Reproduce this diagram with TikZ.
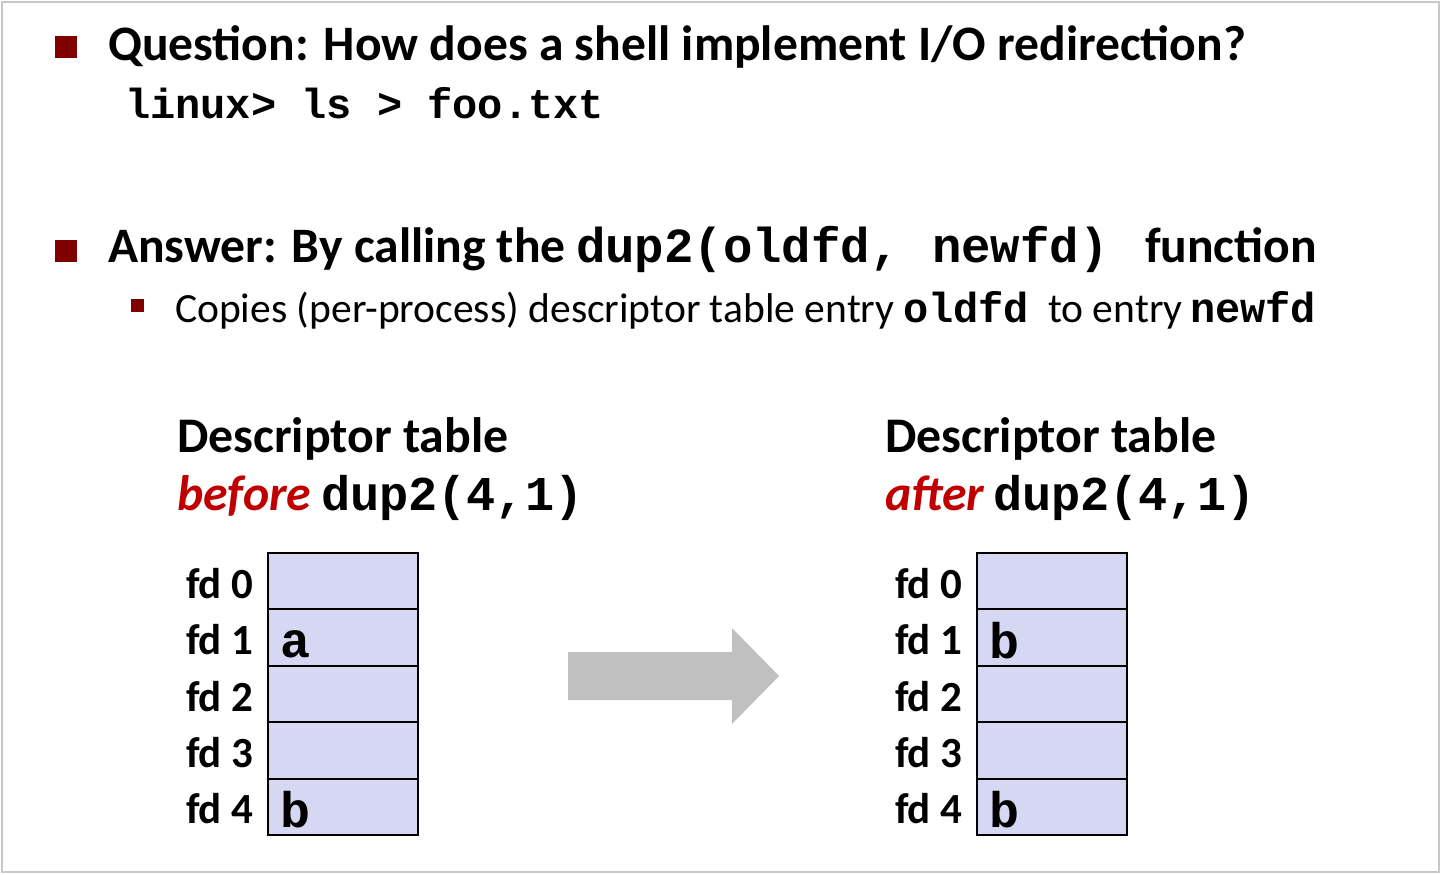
\documentclass[tikz,border=0pt]{standalone}
\usepackage{fontspec}
\setmainfont{Carlito}
\setmonofont{Liberation Mono}
\definecolor{bulletred}{RGB}{128,0,0}
\definecolor{emred}{RGB}{192,0,0}
\definecolor{cellfill}{RGB}{214,216,243}
\definecolor{arrowgray}{RGB}{192,192,192}
\definecolor{framegray}{RGB}{200,200,200}
\tikzset{
  txt/.style={anchor=base west, inner sep=0pt, outer sep=0pt},
  head/.style={txt, font=\bfseries\fontsize{24.8}{29}\selectfont},
  headmono/.style={txt, font=\ttfamily\bfseries\fontsize{24.5}{29}\selectfont},
  cmdmono/.style={txt, font=\ttfamily\bfseries\fontsize{21}{25}\selectfont},
  sub/.style={txt, font=\fontsize{20.8}{25}\selectfont},
  submono/.style={txt, font=\ttfamily\bfseries\fontsize{21}{25}\selectfont},
  thead/.style={txt, font=\bfseries\fontsize{24.9}{29}\selectfont},
  theadit/.style={txt, font=\bfseries\itshape\fontsize{24.9}{29}\selectfont, text=emred},
  tmono/.style={txt, font=\ttfamily\bfseries\fontsize{24.3}{29}\selectfont},
  fdlabel/.style={txt, font=\bfseries\fontsize{21.5}{25}\selectfont},
  cell/.style={draw=black, line width=1pt, fill=cellfill, minimum width=75pt, minimum height=28.2pt, inner sep=0pt, outer sep=0pt},
  cellval/.style={txt, font=\ttfamily\bfseries\fontsize{25}{29}\selectfont},
  bigbullet/.style={fill=bulletred, minimum size=11pt, inner sep=0pt},
  smallbullet/.style={fill=bulletred, minimum size=6.5pt, inner sep=0pt},
}
\begin{document}
\begin{tikzpicture}[x=0.5pt,y=-0.5pt]
\useasboundingbox (0,0) rectangle (1440,874);
\fill[white] (0,0) rectangle (1440,874);
\draw[framegray, line width=1pt] (1.5,1.5) rectangle (1438.5,872);
% Question
\node[bigbullet] (b1) at (66,47) {};
\node[head] (q) at (108,60) {Question: How does a shell implement I/O redirection?};
\node[cmdmono] (cmd) at (125,118) {linux> ls > foo.txt};
% Answer
\node[bigbullet] (b2) at (66,251) {};
\node[head] (a1) at (108,262) {Answer: By calling the};
\node[headmono] (a2) at (576,262) {dup2(oldfd,};
\node[headmono] (a3) at (932,262) {newfd)};
\node[head] (a4) at (1145,262) {function};
% sub bullet
\node[smallbullet] (b3) at (137,305) {};
\node[sub] (s1) at (175,322) {Copies (per-process) descriptor table entry};
\node[submono] (s2) at (903,322) {oldfd};
\node[sub] (s3) at (1048,322) {to entry};
\node[submono] (s4) at (1190,322) {newfd};
% Left table heading
\node[thead] (lh1) at (177,452) {Descriptor table};
\node[theadit] (lh2) at (177,510) {before};
\node[tmono] (lh3) at (321,510) {dup2(4,1)};
% Right table heading
\node[thead] (rh1) at (885,452) {Descriptor table};
\node[theadit] (rh2) at (885,510) {after};
\node[tmono] (rh3) at (993,510) {dup2(4,1)};
% Tables
\foreach \i/\y in {0/581.2,1/637.6,2/694.0,3/750.4,4/806.8}{
  \node[cell] (L\i) at (343,\y) {};
  \node[cell] (R\i) at (1052,\y) {};
  \node[fdlabel] (LL\i) at (186,\y+17) {fd \i};
  \node[fdlabel] (RL\i) at (895,\y+17) {fd \i};
}
\node[cellval] (Lv1) at ([xshift=6pt,yshift=-10pt]L1.west) {a};
\node[cellval] (Lv4) at ([xshift=6pt,yshift=-10.5pt]L4.west) {b};
\node[cellval] (Rv1) at ([xshift=6pt,yshift=-10.5pt]R1.west) {b};
\node[cellval] (Rv4) at ([xshift=6pt,yshift=-10.5pt]R4.west) {b};
% Big arrow
\fill[arrowgray] (568,652) -- (732,652) -- (732,628) -- (779,676) -- (732,724) -- (732,700) -- (568,700) -- cycle;
\end{tikzpicture}
\end{document}
